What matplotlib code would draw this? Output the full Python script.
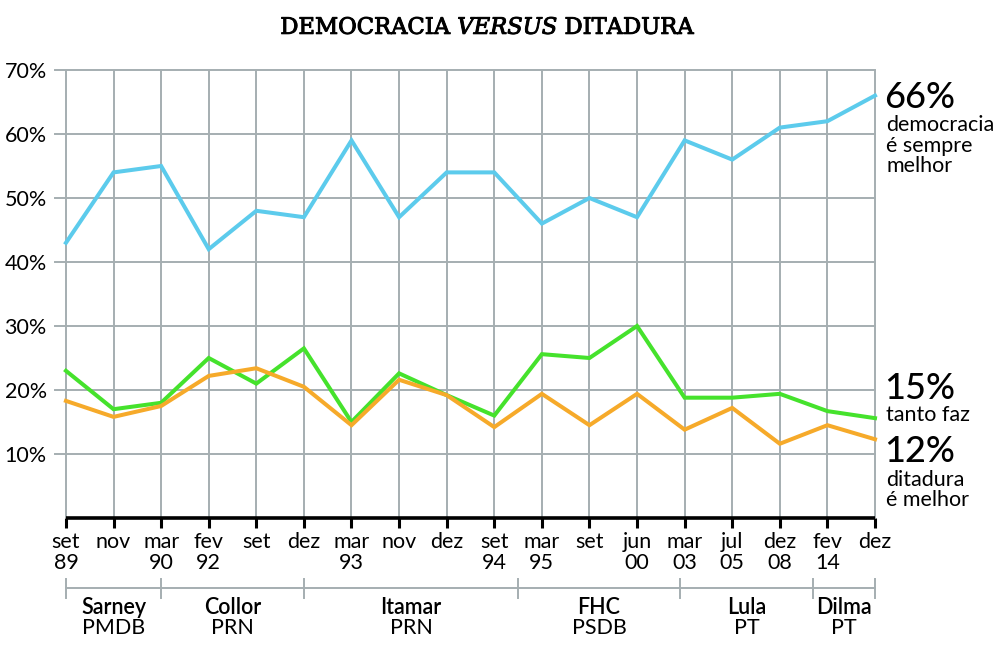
import matplotlib.pyplot as plt
import matplotlib.patheffects as pe
import numpy as np

plt.rcParams['font.family'] = ['Lato', 'DejaVu Sans']
plt.rcParams['mathtext.fontset'] = 'custom'
plt.rcParams['mathtext.rm'] = 'DejaVu Serif'
plt.rcParams['mathtext.it'] = 'DejaVu Serif:italic'

# --- Data ---
months = ['set', 'nov', 'mar', 'fev', 'set', 'dez', 'mar', 'nov', 'dez',
          'set', 'mar', 'set', 'jun', 'mar', 'jul', 'dez', 'fev', 'dez']
years = ['89', '', '90', '92', '', '', '93', '', '',
         '94', '95', '', '00', '03', '05', '08', '14', '']

democracia = [43, 54, 55, 42, 48, 47, 59, 47, 54, 54, 46, 50, 47, 59, 56, 61, 62, 66]
tanto_faz = [23, 17, 18, 25, 21, 26.5, 15, 22.6, 19.2, 16, 25.6, 25, 30, 18.8, 18.8, 19.4, 16.7, 15.6]
ditadura = [18.3, 15.8, 17.5, 22.2, 23.4, 20.5, 14.5, 21.6, 19.2, 14.2, 19.4, 14.5, 19.4,
            13.8, 17.2, 11.6, 14.5, 12.3]

presidents = ['Sarney', 'Collor', 'Itamar', 'FHC', 'Lula', 'Dilma']
parties = ['PMDB', 'PRN', 'PRN', 'PSDB', 'PT', 'PT']
term_bounds = [0, 2, 5, 9.5, 12.9, 15.7, 17]

yticks = [10, 20, 30, 40, 50, 60, 70]

# --- Plot ---
fig = plt.figure(figsize=(10.06, 6.45), dpi=100)
ax = fig.add_axes([55 / 1006, 1 - 518 / 645, 820 / 1006, 448 / 645])

x = np.arange(len(months))
grid_c = '#a5aeb1'

ax.set_xlim(-0.23, len(months) - 1)
ax.set_ylim(0, 70)

# grid
for yv in yticks:
    ax.axhline(yv, color=grid_c, lw=1.4, zorder=1, clip_on=False)
ax.vlines(x, 0, 70, color=grid_c, lw=1.4, zorder=1, clip_on=False)

# series
ax.plot(x, democracia, color='#5ccbec', lw=2.9, zorder=3, clip_on=False, solid_joinstyle='miter')
ax.plot(x, tanto_faz, color='#45e22c', lw=2.9, zorder=3, clip_on=False, solid_joinstyle='miter')
ax.plot(x, ditadura, color='#f6aa2a', lw=2.9, zorder=4, clip_on=False, solid_joinstyle='miter')

# black baseline
ax.plot([x[0], x[-1]], [0, 0], color='black', lw=2.6, solid_capstyle='butt',
        clip_on=False, zorder=5)

for s in ax.spines.values():
    s.set_visible(False)

ax.set_yticks(yticks)
ax.set_yticklabels([f'{v}%' for v in yticks], fontsize=15.5)
ax.tick_params(axis='y', length=0, pad=6)

ax.set_xticks(x)
ax.set_xticklabels([m + ('\n' + yr if yr else '') for m, yr in zip(months, years)],
                   fontsize=15.5, linespacing=1.05)
ax.tick_params(axis='x', length=7, width=2.2, color='black', pad=3)

# presidential terms
tr = ax.get_xaxis_transform()
ax.plot([term_bounds[0], term_bounds[-1]], [-0.156, -0.156], color=grid_c, lw=1.4,
        transform=tr, clip_on=False)
for b in term_bounds:
    ax.plot([b, b], [-0.136, -0.179], color=grid_c, lw=1.4, transform=tr, clip_on=False)
for i, (name, party) in enumerate(zip(presidents, parties)):
    xm = (term_bounds[i] + term_bounds[i + 1]) / 2
    ax.text(xm, -0.199, name, transform=tr, ha='center', va='center', fontsize=15.5,
            fontweight='semibold')
    ax.text(xm, -0.246, party, transform=tr, ha='center', va='center', fontsize=15.5)

# end labels
W, H = 1006, 645
def ftext(px, py, s, size, **kw):
    fig.text(px / W, 1 - py / H, s, fontsize=size, va='center', ha='left', **kw)

ftext(884, 97, '66%', 26, fontweight='medium')
ftext(886, 125, 'democracia', 15.5)
ftext(886, 146, 'é sempre', 15.5)
ftext(886, 166, 'melhor', 15.5)
ftext(884, 388, '15%', 26, fontweight='medium')
ftext(886, 415, 'tanto faz', 15.5)
ftext(884, 452, '12%', 26, fontweight='medium')
ftext(886, 480, 'ditadura', 15.5)
ftext(886, 500, 'é melhor', 15.5)

# title
fig.text(488 / W, 1 - 28 / H, r'DEMOCRACIA $\mathit{VERSUS}$ DITADURA', ha='center', va='center',
         fontsize=16.3, family='DejaVu Serif',
         path_effects=[pe.withStroke(linewidth=0.7, foreground='black')])

fig.savefig('out.png', dpi=100, facecolor='white')
